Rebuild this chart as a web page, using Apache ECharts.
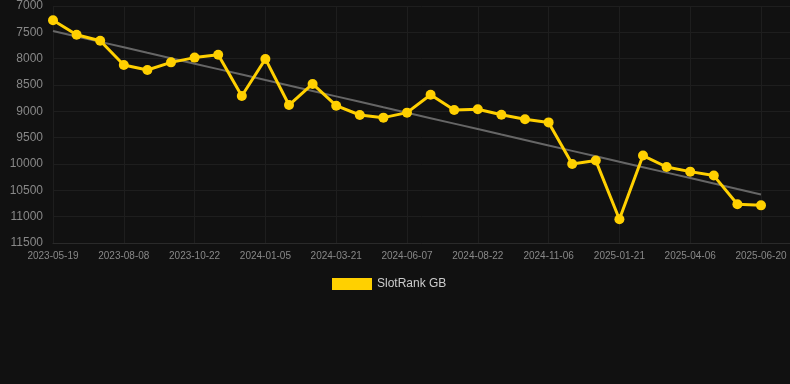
<!DOCTYPE html>
<html><head><meta charset="utf-8">
<script src="https://cdn.jsdelivr.net/npm/echarts@6/dist/echarts.min.js"></script>
<style>html,body{margin:0;padding:0;background:#111111;}#c{width:790px;height:384px;}</style>
</head><body><div id="c"></div>
<script>
var dates = ["2023-05-19","2023-06-15","2023-07-12","2023-08-08","2023-09-02","2023-09-27","2023-10-22","2023-11-16","2023-12-11","2024-01-05","2024-01-30","2024-02-24","2024-03-21","2024-04-16","2024-05-12","2024-06-07","2024-07-02","2024-07-27","2024-08-22","2024-09-16","2024-10-11","2024-11-06","2024-12-01","2024-12-26","2025-01-21","2025-02-15","2025-03-12","2025-04-06","2025-05-01","2025-05-26","2025-06-20"];
var rankGB = [7270,7545,7660,8120,8215,8070,7980,7925,8710,8005,8880,8480,8893,9070,9120,9025,8685,8975,8960,9065,9150,9210,10000,9935,11050,9840,10057,10145,10220,10765,10785];
var yTicks = [7000,11500,500];

// least-squares trend line derived from the data
function trend(v){var n=v.length,sx=0,sy=0,sxy=0,sxx=0;for(var i=0;i<n;i++){sx+=i;sy+=v[i];sxy+=i*v[i];sxx+=i*i;}
var b=(n*sxy-sx*sy)/(n*sxx-sx*sx),a=(sy-b*sx)/n;return v.map(function(_,i){return +(a+b*i).toFixed(1);});}

var font='Liberation Sans, Arial, sans-serif';
var chart = echarts.init(document.getElementById('c'));
chart.setOption({
  backgroundColor:'#111111',
  animation:false,
  grid:[{left:53,right:29,top:6,bottom:141},{left:53,right:0,top:6,bottom:141}],
  legend:{show:true,top:273,left:327,itemWidth:40,itemHeight:12,itemGap:10,
    textStyle:{color:'#cccccc',fontSize:12,fontFamily:font},
    data:[{name:'SlotRank GB',icon:'rect'}]},
  xAxis:[{type:'category',gridIndex:0,data:dates,boundaryGap:false,
    axisLine:{show:false},axisTick:{show:false},
    axisLabel:{interval:2,color:'#888888',fontSize:10,margin:8,fontFamily:font},
    splitLine:{show:true,interval:2,lineStyle:{color:'#1e1e1e'}}},
    {type:'value',gridIndex:1,min:0,max:1,axisLine:{show:true,lineStyle:{color:'#2a2a2a'}},
    axisTick:{show:false},axisLabel:{show:false},splitLine:{show:false}}],
  yAxis:[{type:'value',gridIndex:0,inverse:true,min:yTicks[0],max:yTicks[1],interval:yTicks[2],
    axisLine:{show:false},axisTick:{show:false},
    axisLabel:{color:'#888888',fontSize:12,margin:10,fontFamily:font,formatter:function(v){return String(v);}},
    splitLine:{show:false}},
    {type:'value',gridIndex:1,inverse:true,min:yTicks[0],max:yTicks[1],interval:yTicks[2],
    axisLine:{show:false},axisTick:{show:false},axisLabel:{show:false},
    splitLine:{show:true,lineStyle:{color:'#1e1e1e'}}}],
  series:[
    {name:'Trend',type:'line',xAxisIndex:0,yAxisIndex:0,data:trend(rankGB),symbol:'none',lineStyle:{color:'#666666',width:2},itemStyle:{color:'#666666'},z:3,silent:true},
    {name:'SlotRank GB',type:'line',xAxisIndex:0,yAxisIndex:0,data:rankGB,symbol:'circle',symbolSize:10,
      lineStyle:{color:'#FFD000',width:3},itemStyle:{color:'#FFD000'},z:4}
  ]
});
</script></body></html>
